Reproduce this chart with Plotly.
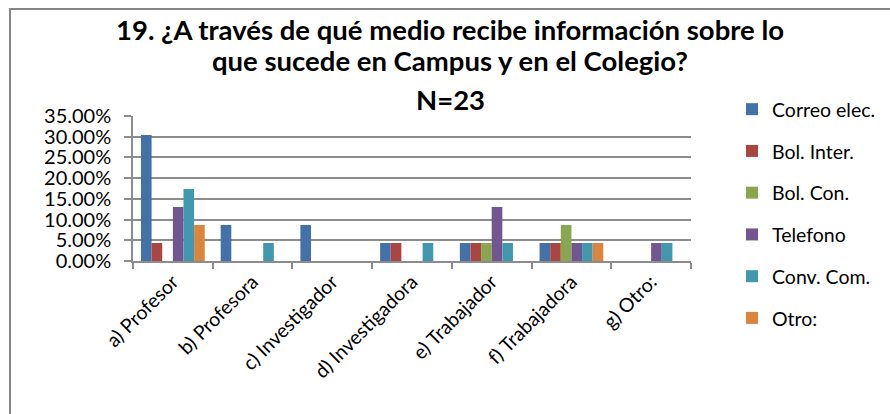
import plotly.graph_objects as go

categories = ["a) Profesor", "b) Profesora", "c) Investigador", "d) Investigadora",
              "e) Trabajador", "f) Trabajadora", "g) Otro:"]
series_names = ["Correo elec.", "Bol. Inter.", "Bol. Con.", "Telefono", "Conv. Com.", "Otro:"]
correo = [0.3043, 0.0870, 0.0870, 0.0435, 0.0435, 0.0435, 0.0]
bol_inter = [0.0435, 0.0, 0.0, 0.0435, 0.0435, 0.0435, 0.0]
bol_con = [0.0, 0.0, 0.0, 0.0, 0.0435, 0.0870, 0.0]
telefono = [0.1304, 0.0, 0.0, 0.0, 0.1304, 0.0435, 0.0435]
conv_com = [0.1739, 0.0435, 0.0, 0.0435, 0.0435, 0.0435, 0.0435]
otro = [0.0870, 0.0, 0.0, 0.0, 0.0, 0.0435, 0.0]
title_lines = ["19. ¿A través de qué medio recibe información sobre lo",
               "que sucede en Campus y en el Colegio?",
               "N=23"]

colors = ["#4372A8", "#AB4542", "#8AA64F", "#715690", "#4198AF", "#DB843D"]
values = [correo, bol_inter, bol_con, telefono, conv_com, otro]

W, H = 890, 414
L, R, T, B = 133, 691, 116, 261  # plot area pixel bounds
pw, ph = R - L, B - T


def px(x):
    return (x - L) / pw


def py(y):
    return (B - y) / ph


FONT = "Lato"
fig = go.Figure()
for name, vals, col in zip(series_names, values, colors):
    fig.add_trace(go.Bar(x=categories, y=vals, name=name, marker_color=col,
                         marker_line_width=0, legendgroup=name))

annots = []
for text, yc in zip(title_lines, [30, 61, 99]):
    annots.append(dict(text="<b>%s</b>" % text, x=px(450), y=py(yc), xref="paper", yref="paper",
                       xanchor="center", yanchor="middle", showarrow=False,
                       font=dict(family=FONT, size=27.5, color="#000000")))

fig.update_layout(
    width=W, height=H,
    margin=dict(l=L, r=W - R, t=T, b=H - B, autoexpand=False),
    paper_bgcolor="white", plot_bgcolor="white",
    barmode="group", bargap=0.2, bargroupgap=0,
    font=dict(family=FONT, color="#000000"),
    annotations=annots,
    showlegend=True,
    legend=dict(x=px(732), y=py(90), xanchor="left", yanchor="top",
                traceorder="grouped", tracegroupgap=13.4, maxheight=400,
                font=dict(family=FONT, size=19.5, color="#000000"),
                itemwidth=30, bgcolor="rgba(0,0,0,0)"),
    shapes=[dict(type="rect", xref="paper", yref="paper",
                 x0=px(10), y0=py(9), x1=px(900), y1=py(430),
                 line=dict(color="#868686", width=2), fillcolor="rgba(0,0,0,0)", layer="below")],
)
fig.update_yaxes(range=[0, 0.35], dtick=0.05, tickformat=".2%",
                 showgrid=True, gridcolor="#8C8C8C", gridwidth=1.5,
                 showline=True, linecolor="#8C8C8C", linewidth=1.5,
                 ticks="outside", ticklen=7, tickcolor="#8C8C8C", tickwidth=1.5,
                 ticklabelstandoff=9,
                 tickfont=dict(family=FONT, size=20, color="#000000"), zeroline=False)
fig.update_xaxes(tickson="boundaries", ticks="outside", ticklen=6, tickcolor="#8C8C8C", tickwidth=1.5,
                 showline=True, linecolor="#8C8C8C", linewidth=1.5, tickangle=-45,
                 tickfont=dict(family=FONT, size=19.5, color="#000000"), showgrid=False)

fig.write_html("out.html", config={"displayModeBar": False},
               post_script="document.body.style.margin='0px';")
